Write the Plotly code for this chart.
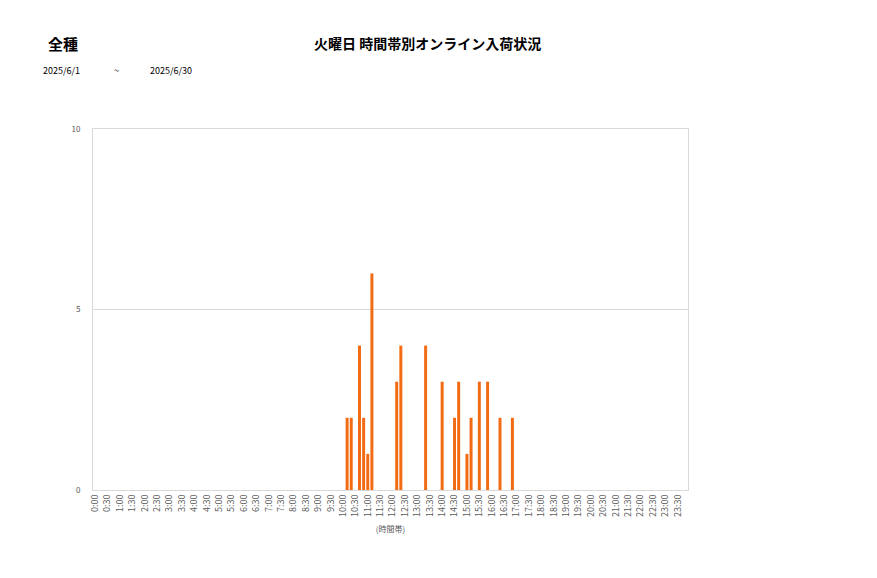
import plotly.graph_objects as go

# 10-minute time slots (categories)
hours = list(range(24))
minutes = [0, 10, 20, 30, 40, 50]
categories = [f"{h}:{m:02d}" for h in hours for m in minutes]

# arrivals per slot, one row per hour (6 slots of 10 minutes)
values_by_hour = [
    [0, 0, 0, 0, 0, 0],  # 0
    [0, 0, 0, 0, 0, 0],  # 1
    [0, 0, 0, 0, 0, 0],  # 2
    [0, 0, 0, 0, 0, 0],  # 3
    [0, 0, 0, 0, 0, 0],  # 4
    [0, 0, 0, 0, 0, 0],  # 5
    [0, 0, 0, 0, 0, 0],  # 6
    [0, 0, 0, 0, 0, 0],  # 7
    [0, 0, 0, 0, 0, 0],  # 8
    [0, 0, 0, 0, 0, 0],  # 9
    [0, 2, 2, 0, 4, 2],  # 10
    [1, 6, 0, 0, 0, 0],  # 11
    [0, 3, 4, 0, 0, 0],  # 12
    [0, 0, 4, 0, 0, 0],  # 13
    [3, 0, 0, 2, 3, 0],  # 14
    [1, 2, 0, 3, 0, 3],  # 15
    [0, 0, 2, 0, 0, 2],  # 16
    [0, 0, 0, 0, 0, 0],  # 17
    [0, 0, 0, 0, 0, 0],  # 18
    [0, 0, 0, 0, 0, 0],  # 19
    [0, 0, 0, 0, 0, 0],  # 20
    [0, 0, 0, 0, 0, 0],  # 21
    [0, 0, 0, 0, 0, 0],  # 22
    [0, 0, 0, 0, 0, 0],  # 23
]
values = [v for row in values_by_hour for v in row]

tick_labels = [c for c in categories if c.endswith(":00") or c.endswith(":30")]

title_text = "火曜日 時間帯別オンライン入荷状況"
kind_text = "全種"
date_from = "2025/6/1"
date_sep = "~"
date_to = "2025/6/30"
x_title = "(時間帯)"
y_ticks = [0, 5, 10]

FONT = "Noto Sans CJK JP, Noto Sans, sans-serif"
BAR_COLOR = "#F26B12"

W, H = 877, 578
OFF = 8  # page body margin offset
L, T = 93 - OFF, 129 - OFF
PW, PH = 595, 361
R, B = W - L - PW, H - T - PH

fig = go.Figure(
    go.Bar(
        x=categories,
        y=values,
        marker=dict(color=BAR_COLOR, line=dict(width=0)),
        width=0.72,
    )
)

fig.update_layout(
    width=W,
    height=H,
    margin=dict(l=L, r=R, t=T, b=B),
    paper_bgcolor="white",
    plot_bgcolor="white",
    showlegend=False,
    font=dict(family=FONT, color="#595959", size=9),
)

fig.update_xaxes(
    type="category",
    categoryorder="array",
    categoryarray=categories,
    tickmode="array",
    tickvals=tick_labels,
    ticktext=tick_labels,
    tickangle=-90,
    tickfont=dict(size=9, color="#595959"),
    showgrid=False,
    showline=True,
    linecolor="#D9D9D9",
    linewidth=1,
    mirror=True,
    ticks="",
    title=dict(text=x_title, font=dict(size=8, color="#595959"), standoff=10),
)

fig.update_yaxes(
    range=[0, 10],
    tickmode="array",
    tickvals=y_ticks,
    ticktext=[str(t) for t in y_ticks],
    tickfont=dict(size=8, color="#595959"),
    showgrid=True,
    gridcolor="#D9D9D9",
    gridwidth=1,
    zeroline=False,
    showline=True,
    linecolor="#D9D9D9",
    linewidth=1,
    mirror=True,
    ticks="",
    ticklabelstandoff=10,
)

annotations = [
    dict(text=f"<b>{kind_text}</b>", x=63, y=43, font=dict(size=15, color="#000000")),
    dict(text=f"<b>{title_text}</b>", x=427, y=43, font=dict(size=14, color="#000000")),
    dict(text=date_from, x=61, y=70, font=dict(size=9, color="#000000")),
    dict(text=date_sep, x=116, y=70, font=dict(size=9, color="#000000")),
    dict(text=date_to, x=171, y=70, font=dict(size=9, color="#000000")),
]
for a in annotations:
    px = a["x"] - OFF
    py = a["y"] - OFF
    fig.add_annotation(
        text=a["text"],
        x=(px - L) / PW,
        y=1 - (py - T) / PH,
        xref="paper",
        yref="paper",
        xanchor="center",
        yanchor="middle",
        showarrow=False,
        font=dict(family=FONT, **a["font"]),
    )

fig.write_html("out.html")
